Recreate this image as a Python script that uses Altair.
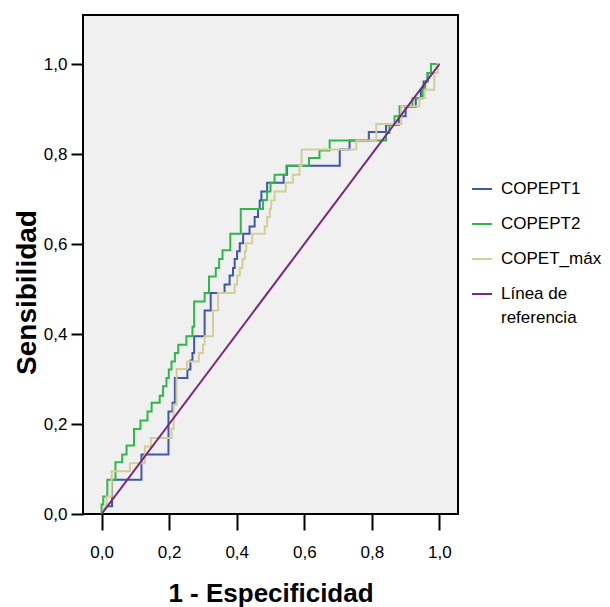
import altair as alt
import pandas as pd

# ---- data ----
series_names = ["COPEPT1", "COPEPT2", "COPET_máx", "Línea de referencia"]
series_colors = ["#3E58AC", "#2EB848", "#D3CE97", "#7C287D"]

copept1 = [(0, 0), (0.015, 0.017), (0.031, 0.017), (0.031, 0.076), (0.118, 0.076), (0.118, 0.132),
           (0.198, 0.132), (0.198, 0.228), (0.21, 0.228), (0.21, 0.247), (0.217, 0.247), (0.217, 0.302),
           (0.254, 0.302), (0.254, 0.321), (0.263, 0.321), (0.263, 0.341), (0.269, 0.341), (0.269, 0.358),
           (0.274, 0.358), (0.274, 0.395), (0.305, 0.395), (0.305, 0.452), (0.323, 0.452), (0.323, 0.491),
           (0.364, 0.491), (0.364, 0.51), (0.379, 0.51), (0.379, 0.53), (0.389, 0.53), (0.389, 0.547),
           (0.394, 0.547), (0.394, 0.567), (0.401, 0.567), (0.401, 0.584), (0.409, 0.584), (0.409, 0.602),
           (0.419, 0.602), (0.419, 0.623), (0.438, 0.623), (0.438, 0.639), (0.453, 0.639), (0.453, 0.66),
           (0.463, 0.66), (0.463, 0.678), (0.468, 0.678), (0.468, 0.697), (0.473, 0.697), (0.473, 0.717),
           (0.49, 0.717), (0.49, 0.736), (0.539, 0.736), (0.539, 0.754), (0.549, 0.754), (0.549, 0.774),
           (0.705, 0.774), (0.705, 0.81), (0.734, 0.81), (0.734, 0.83), (0.791, 0.83), (0.791, 0.849),
           (0.842, 0.849), (0.842, 0.865), (0.88, 0.865), (0.88, 0.884), (0.90, 0.884), (0.90, 0.905),
           (0.93, 0.905), (0.93, 0.924), (0.945, 0.924), (0.945, 0.943), (0.953, 0.943), (0.953, 0.961),
           (0.965, 0.961), (0.965, 0.98), (0.975, 0.98), (0.975, 1.0), (1.0, 1.0)]

copept2 = [(0, 0), (0, 0.021), (0.005, 0.021), (0.005, 0.039), (0.017, 0.039), (0.017, 0.076),
           (0.041, 0.076), (0.041, 0.115), (0.061, 0.115), (0.061, 0.132), (0.074, 0.132), (0.074, 0.152),
           (0.096, 0.152), (0.096, 0.189), (0.115, 0.189), (0.115, 0.208), (0.136, 0.208), (0.136, 0.228),
           (0.148, 0.228), (0.148, 0.247), (0.172, 0.247), (0.172, 0.263), (0.182, 0.263), (0.182, 0.284),
           (0.192, 0.284), (0.192, 0.302), (0.199, 0.302), (0.199, 0.321), (0.207, 0.321), (0.207, 0.339),
           (0.217, 0.339), (0.217, 0.358), (0.227, 0.358), (0.227, 0.376), (0.251, 0.376), (0.251, 0.395),
           (0.269, 0.395), (0.269, 0.416), (0.274, 0.416), (0.274, 0.472), (0.305, 0.472), (0.305, 0.491),
           (0.318, 0.491), (0.318, 0.528), (0.338, 0.528), (0.338, 0.547), (0.348, 0.547), (0.348, 0.567),
           (0.358, 0.567), (0.358, 0.586), (0.381, 0.586), (0.381, 0.623), (0.412, 0.623), (0.412, 0.678),
           (0.478, 0.678), (0.478, 0.698), (0.49, 0.698), (0.49, 0.717), (0.50, 0.717), (0.50, 0.736),
           (0.512, 0.736), (0.512, 0.754), (0.547, 0.754), (0.547, 0.774), (0.614, 0.774), (0.614, 0.791),
           (0.645, 0.791), (0.645, 0.808), (0.675, 0.808), (0.675, 0.83), (0.842, 0.83), (0.842, 0.847),
           (0.852, 0.847), (0.852, 0.865), (0.867, 0.865), (0.867, 0.884), (0.882, 0.884), (0.882, 0.906),
           (0.92, 0.906), (0.92, 0.924), (0.951, 0.924), (0.951, 0.943), (0.958, 0.943), (0.958, 0.961),
           (0.965, 0.961), (0.965, 0.98), (0.975, 0.98), (0.975, 1.0), (1.0, 1.0)]

copet_max = [(0, 0), (0.015, 0.02), (0.015, 0.039), (0.03, 0.039), (0.03, 0.095), (0.084, 0.095),
             (0.084, 0.113), (0.128, 0.113), (0.128, 0.15), (0.146, 0.15), (0.146, 0.169), (0.207, 0.169),
             (0.207, 0.189), (0.213, 0.189), (0.213, 0.243), (0.222, 0.243), (0.222, 0.322), (0.253, 0.322),
             (0.253, 0.339), (0.288, 0.339), (0.288, 0.358), (0.30, 0.358), (0.30, 0.376), (0.305, 0.376),
             (0.305, 0.395), (0.33, 0.395), (0.33, 0.452), (0.345, 0.452), (0.345, 0.491), (0.394, 0.491),
             (0.394, 0.51), (0.401, 0.51), (0.401, 0.53), (0.409, 0.53), (0.409, 0.547), (0.417, 0.547),
             (0.417, 0.567), (0.424, 0.567), (0.424, 0.584), (0.428, 0.584), (0.428, 0.602), (0.446, 0.602),
             (0.446, 0.623), (0.483, 0.623), (0.483, 0.639), (0.49, 0.639), (0.49, 0.66), (0.498, 0.66),
             (0.498, 0.678), (0.502, 0.678), (0.502, 0.697), (0.512, 0.697), (0.512, 0.717), (0.545, 0.717),
             (0.545, 0.736), (0.566, 0.736), (0.566, 0.754), (0.586, 0.754), (0.586, 0.774), (0.592, 0.774),
             (0.592, 0.81), (0.754, 0.81), (0.754, 0.83), (0.813, 0.83), (0.813, 0.867), (0.887, 0.867),
             (0.887, 0.906), (0.941, 0.906), (0.941, 0.924), (0.956, 0.924), (0.956, 0.943), (0.985, 0.943),
             (0.985, 0.98), (0.995, 0.98), (0.995, 1.0), (1.0, 1.0)]

reference = [(0, 0), (1.0, 1.0)]

tick_values = [0.0, 0.2, 0.4, 0.6, 0.8, 1.0]

# ---- table ----
rows = []
for name, pts in zip(series_names, [copept1, copept2, copet_max, reference]):
    for i, (xv, yv) in enumerate(pts):
        rows.append({"serie": name, "x": xv, "y": yv, "idx": i})
df = pd.DataFrame(rows)

FONT = "Liberation Sans"
label_expr = "replace(format(datum.value, '.1f'), '.', ',')"

chart = alt.Chart(df).mark_line(strokeWidth=2, clip=True).encode(
    x=alt.X("x:Q",
            scale=alt.Scale(domain=[-0.055, 1.055], nice=False, zero=False),
            axis=alt.Axis(title="1 - Especificidad", values=tick_values, labelExpr=label_expr,
                          grid=False, domain=False, tickSize=16, tickWidth=2, tickColor="black",
                          labelPadding=14, labelFontSize=17, labelFont=FONT, labelColor="black",
                          titleFont=FONT, titleFontSize=26, titleFontWeight="bold", titleColor="black",
                          titleX=187.5, titleY=79, titleBaseline="middle", titleAnchor="middle")),
    y=alt.Y("y:Q",
            scale=alt.Scale(domain=[0, 1.109], nice=False, zero=False),
            axis=alt.Axis(title="Sensibilidad", values=tick_values, labelExpr=label_expr,
                          grid=False, domain=False, tickSize=12, tickWidth=2, tickColor="black",
                          labelPadding=4, labelFontSize=17, labelFont=FONT, labelColor="black",
                          titleFont=FONT, titleFontSize=28, titleFontWeight="bold", titleColor="black",
                          titleX=-56, titleY=277, titleAngle=270, titleBaseline="middle",
                          titleAlign="center")),
    color=alt.Color("serie:N",
                    scale=alt.Scale(domain=series_names, range=series_colors),
                    legend=alt.Legend(title=None, orient="none", legendX=388, legendY=163,
                                      symbolType="stroke", symbolSize=400, symbolStrokeWidth=2,
                                      labelFontSize=17, labelFont=FONT, labelColor="black",
                                      labelOffset=8, rowPadding=16, labelLimit=200,
                                      labelExpr="datum.label == 'Línea de referencia' ? ['Línea de', 'referencia'] : datum.label")),
    order=alt.Order("idx:Q"),
).properties(
    width=375, height=499,
    autosize=alt.AutoSizeParams(type="none"),
    padding={"left": 83, "top": 15, "right": 152, "bottom": 93},
    background="white",
).configure(
    style={"guide-label": {"lineHeight": 24}},
).configure_view(
    fill="#F0F0F0", stroke="black", strokeWidth=2,
)

chart.save("out.html", embed_options={"renderer": "svg", "actions": False})
